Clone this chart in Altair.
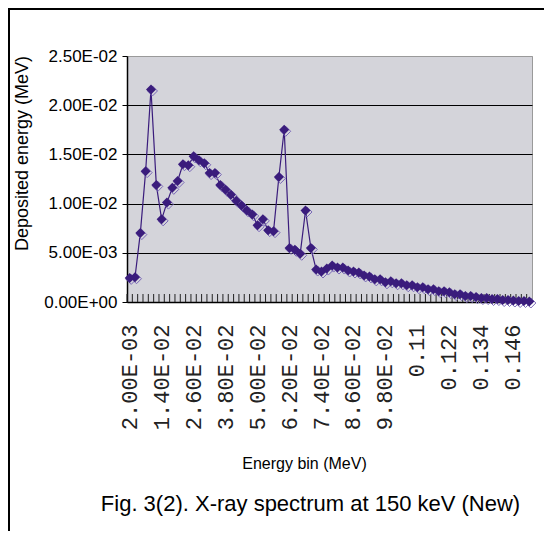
import altair as alt
import pandas as pd

# Energy bin categories (MeV), as printed on the category axis
bins = [
    "2.00E-03", "4.00E-03", "6.00E-03", "8.00E-03",
    "1.00E-02", "1.20E-02", "1.40E-02", "1.60E-02", "1.80E-02",
    "2.00E-02", "2.20E-02", "2.40E-02", "2.60E-02", "2.80E-02",
    "3.00E-02", "3.20E-02", "3.40E-02", "3.60E-02", "3.80E-02",
    "4.00E-02", "4.20E-02", "4.40E-02", "4.60E-02", "4.80E-02",
    "5.00E-02", "5.20E-02", "5.40E-02", "5.60E-02", "5.80E-02",
    "6.00E-02", "6.20E-02", "6.40E-02", "6.60E-02", "6.80E-02",
    "7.00E-02", "7.20E-02", "7.40E-02", "7.60E-02", "7.80E-02",
    "8.00E-02", "8.20E-02", "8.40E-02", "8.60E-02", "8.80E-02",
    "9.00E-02", "9.20E-02", "9.40E-02", "9.60E-02", "9.80E-02",
    "0.1", "0.102", "0.104", "0.106", "0.108",
    "0.11", "0.112", "0.114", "0.116", "0.118",
    "0.12", "0.122", "0.124", "0.126", "0.128",
    "0.13", "0.132", "0.134", "0.136", "0.138",
    "0.14", "0.142", "0.144", "0.146", "0.148",
    "0.15", "0.152",
]

# Deposited energy (MeV)
deposited = [
    0.00245, 0.00252, 0.0070, 0.0133, 0.0216, 0.0119, 0.0084, 0.0101, 0.0116, 0.0123,
    0.0140, 0.0139, 0.0148, 0.0144, 0.0141, 0.0131, 0.0131, 0.0119, 0.0114, 0.0109,
    0.0103, 0.0098, 0.0093, 0.0089, 0.0078, 0.0084, 0.0073, 0.0072, 0.0127, 0.0175,
    0.0055, 0.0053, 0.0049, 0.0093, 0.0055, 0.0033, 0.0031, 0.0034, 0.0037, 0.0035,
    0.0035, 0.0032, 0.0031, 0.0030, 0.0027, 0.0026, 0.0023, 0.0023, 0.0020, 0.0021,
    0.0019, 0.0019, 0.0017, 0.0017, 0.0015, 0.0015, 0.0013, 0.0013, 0.0011, 0.0011,
    0.0010, 0.0008, 0.0008, 0.0006, 0.0006, 0.0005, 0.0004, 0.0004, 0.0003, 0.0003,
    0.0002, 0.0002, 0.00015, 0.0001, 0.0001, 0.00005,
]

shown_labels = ["2.00E-03", "1.40E-02", "2.60E-02", "3.80E-02", "5.00E-02", "6.20E-02",
                "7.40E-02", "8.60E-02", "9.80E-02", "0.11", "0.122", "0.134", "0.146"]

y_ticks = [0, 0.005, 0.01, 0.015, 0.02, 0.025]
y_labels = ["0.00E+00", "5.00E-03", "1.00E-02", "1.50E-02", "2.00E-02", "2.50E-02"]

df = pd.DataFrame({"bin": bins, "dep": deposited})

PURPLE = "#3a1c7c"
SANS = "Liberation Sans, Arial, sans-serif"
W, H = 405, 246

shown_js = "[" + ",".join("'%s'" % s for s in shown_labels) + "]"
ylab_js = "[" + ",".join("'%s'" % s for s in y_labels) + "]"

x_axis = alt.Axis(
    title="Energy bin (MeV)",
    labelExpr="indexof(%s, datum.label) >= 0 ? datum.label : ''" % shown_js,
    labelAngle=270,
    labelFont="Liberation Mono, DejaVu Sans Mono, monospace",
    labelFontSize=22,
    labelColor="#222222",
    labelPadding=22,
    labelOverlap=False,
    ticks=False,
    tickSize=0,
    domainColor="black",
    domainWidth=1.5,
    titleFont=SANS,
    titleFontSize=16,
    titleFontWeight="normal",
    titleColor="black",
    titleX=177,
    titleY=161,
    titleAlign="center",
    titleBaseline="middle",
)

x_scale = alt.Scale(type="band", paddingInner=0, paddingOuter=0)
x_enc = alt.X("bin:N", sort=None, scale=x_scale, axis=x_axis)
x_rule = alt.X("bin:N", sort=None, scale=x_scale, axis=x_axis, bandPosition=0)

y_enc = alt.Y(
    "dep:Q",
    scale=alt.Scale(domain=[0, 0.025], nice=False),
    axis=alt.Axis(
        title="Deposited energy (MeV)",
        values=y_ticks,
        labelExpr="%s[round(datum.value / 0.005)]" % ylab_js,
        labelFont=SANS,
        labelFontSize=17,
        labelColor="black",
        labelPadding=5,
        tickSize=5,
        tickColor="black",
        domainColor="black",
        domainWidth=1.5,
        grid=True,
        gridColor={"condition": {"test": "datum.value >= 0.025", "value": "#9a9a9a"}, "value": "black"},
        gridWidth=1,
        gridOpacity=1,
        titleFont=SANS,
        titleFontSize=18,
        titleFontWeight="normal",
        titleColor="black",
        titleX=-105,
        titleY=97,
        titleAlign="center",
        titleBaseline="middle",
    ),
)

base = alt.Chart(df)

ticks = base.mark_rule(color="#222222", strokeWidth=1).encode(
    x=x_rule, y=alt.value(H - 8), y2=alt.value(H)
)
line = base.mark_line(color=PURPLE, strokeWidth=1.2).encode(x=x_enc, y=y_enc)
shadow = base.mark_point(
    shape="diamond", filled=False, size=100, color="#7a68b8", strokeWidth=1,
    xOffset=1.5, yOffset=1.5, opacity=1,
).encode(x=x_enc, y=y_enc)
points = base.mark_point(
    shape="diamond", filled=True, size=100, color=PURPLE, opacity=1,
).encode(x=x_enc, y=y_enc)

frame_df = pd.DataFrame({"f": [0]})
frame_left = alt.Chart(frame_df).mark_rule(color="black", strokeWidth=2).encode(
    x=alt.value(-118), y=alt.value(-48), y2=alt.value(475)
)
frame_top = alt.Chart(frame_df).mark_rule(color="black", strokeWidth=2).encode(
    y=alt.value(-47), x=alt.value(-119), x2=alt.value(417)
)

chart = (
    alt.layer(ticks, line, shadow, points, frame_left, frame_top)
    .properties(
        width=W,
        height=H,
        autosize=alt.AutoSizeParams(type="none"),
        padding={"left": 119, "top": 48, "right": 12, "bottom": 229},
        title=alt.TitleParams(
            "Fig. 3(2). X-ray spectrum at 150 keV (New)",
            orient="bottom",
            anchor="middle",
            font=SANS,
            fontSize=22,
            fontWeight="normal",
            color="black",
            offset=-38,
            dx=-19,
        ),
        background="white",
    )
    .configure_view(fill="#d4d4da", stroke="#9a9a9a", strokeWidth=1)
)

chart.save("out.html", embed_options={"renderer": "svg", "actions": False})
